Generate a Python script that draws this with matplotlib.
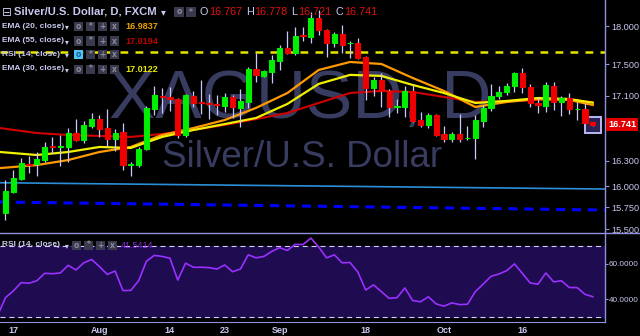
import matplotlib
matplotlib.use('Agg')
import matplotlib.pyplot as plt
import matplotlib.transforms as mtransforms
from matplotlib.patches import Rectangle
from matplotlib.lines import Line2D
from matplotlib.ticker import NullLocator, FixedLocator, FixedFormatter
import numpy as np

# ---------------- data ----------------
opens = [15.685, 15.930, 16.083, 16.267, 16.261, 16.309, 16.473, 16.461, 16.467, 16.637,
         16.552, 16.723, 16.809, 16.698, 16.564, 16.650, 16.255, 16.249, 16.443, 16.934,
         17.096, 17.078, 17.059, 16.613, 17.096, 17.015, 17.003, 16.997, 16.972, 17.084,
         16.947, 17.021, 17.440, 17.351, 17.402, 17.543, 17.713, 17.648, 17.876, 17.856,
         18.106, 17.948, 17.778, 17.896, 17.772, 17.778, 17.595, 17.198, 17.300, 17.160,
         16.953, 16.959, 17.160, 16.797, 16.735, 16.859, 16.625, 16.564, 16.625, 16.570,
         16.576, 16.784, 16.947, 17.096, 17.147, 17.224, 17.389, 17.211, 17.009, 16.972,
         17.224, 17.021, 17.071, 16.928, 16.934, 16.767]
highs = [16.071, 16.190, 16.333, 16.357, 16.406, 16.528, 16.589, 16.613, 16.698, 16.809,
         16.784, 16.884, 16.859, 16.934, 16.686, 16.759, 16.285, 16.467, 16.972, 17.224,
         17.198, 17.211, 17.071, 17.122, 17.160, 17.300, 17.122, 17.109, 17.134, 17.109,
         17.185, 17.466, 17.648, 17.427, 17.622, 17.752, 17.935, 17.987, 17.987, 18.185,
         18.211, 17.961, 17.922, 18.013, 17.804, 17.843, 17.608, 17.338, 17.389, 17.185,
         17.059, 17.224, 17.236, 16.897, 16.884, 16.872, 16.723, 16.650, 16.872, 16.723,
         16.859, 16.984, 17.249, 17.224, 17.262, 17.402, 17.453, 17.249, 17.084, 17.274,
         17.274, 17.096, 17.134, 17.021, 17.009, 16.778]
lows = [15.604, 15.918, 16.071, 16.154, 16.119, 16.285, 16.394, 16.237, 16.285, 16.540,
        16.516, 16.698, 16.589, 16.467, 16.418, 16.190, 16.119, 16.226, 16.430, 16.859,
        16.884, 16.909, 16.576, 16.589, 16.959, 16.872, 16.809, 16.859, 16.897, 16.822,
        16.711, 16.947, 17.274, 17.338, 17.262, 17.427, 17.635, 17.622, 17.804, 17.778,
        17.883, 17.595, 17.726, 17.648, 17.582, 17.569, 17.046, 17.096, 16.959, 16.834,
        16.884, 16.834, 16.772, 16.711, 16.698, 16.601, 16.528, 16.528, 16.528, 16.552,
        16.321, 16.711, 16.909, 17.059, 17.109, 17.147, 17.134, 16.959, 16.884, 16.897,
        16.922, 16.847, 16.872, 16.797, 16.755, 16.721]
closes = [15.942, 16.095, 16.273, 16.255, 16.321, 16.467, 16.461, 16.473, 16.637, 16.552,
          16.735, 16.809, 16.686, 16.564, 16.637, 16.249, 16.267, 16.443, 16.947, 17.109,
          17.078, 17.059, 16.613, 17.109, 17.009, 17.003, 16.990, 16.984, 17.084, 16.953,
          17.034, 17.440, 17.364, 17.415, 17.556, 17.713, 17.648, 17.870, 17.863, 18.106,
          17.948, 17.778, 17.896, 17.752, 17.778, 17.582, 17.198, 17.300, 17.160, 16.959,
          16.965, 17.160, 16.784, 16.735, 16.859, 16.613, 16.564, 16.625, 16.564, 16.582,
          16.797, 16.947, 17.096, 17.147, 17.224, 17.389, 17.211, 17.009, 16.984, 17.236,
          17.021, 17.071, 16.934, 16.934, 16.765, 16.741]

# EMA lines read at sampled bar positions
ema_idx = [-0.7, 4, 8, 12, 16, 20, 24, 28, 32, 36, 40, 44, 48, 52, 56, 60, 64, 68, 72, 75]
ema20 = [16.213, 16.249, 16.309, 16.406, 16.467, 16.613, 16.698, 16.797, 16.947, 17.134,
         17.427, 17.530, 17.504, 17.325, 17.160, 16.959, 17.021, 17.059, 17.046, 16.9837]
ema30 = [16.406, 16.370, 16.406, 16.467, 16.455, 16.589, 16.674, 16.747, 16.822, 16.997,
         17.249, 17.364, 17.351, 17.236, 17.134, 17.009, 17.034, 17.071, 17.059, 17.0122]
ema55 = [16.698, 16.637, 16.613, 16.601, 16.589, 16.625, 16.674, 16.735, 16.809, 16.884,
         17.009, 17.134, 17.160, 17.147, 17.084, 17.021, 17.034, 17.046, 17.046, 17.0194]

# RSI(14), first value belongs to the bar before the first visible candle
rsi_start = -1
rsi = [31.0, 41.0, 44.8, 49.5, 49.1, 50.5, 54.7, 54.5, 54.9, 59.2, 56.6, 60.6, 62.5, 58.5,
       54.1, 56.0, 45.0, 45.1, 50.5, 61.5, 64.8, 64.2, 63.2, 50.9, 60.4, 58.1, 58.1, 57.9,
       57.1, 59.4, 55.6, 57.1, 65.1, 63.4, 64.2, 67.0, 69.1, 67.6, 71.0, 70.9, 74.5, 69.5,
       63.4, 65.1, 60.6, 60.8, 55.4, 45.3, 48.2, 44.4, 40.6, 41.0, 46.5, 39.4, 38.7, 41.5,
       37.5, 36.2, 38.1, 37.1, 37.3, 44.4, 48.6, 53.0, 54.3, 56.2, 60.0, 54.7, 49.3, 48.6,
       54.9, 49.9, 50.5, 46.7, 46.7, 42.9, 41.5414]

# drawn levels / trend lines
level_yellow = 17.665
trend_x = [-0.7, 76.6]
trend_light = [16.039, 15.965]
trend_dashed = [15.813, 15.720]

price_ticks = [18.0, 17.5, 17.1, 16.3, 16.0, 15.75, 15.5]
price_labels = ['18.000', '17.500', '17.100', '16.300', '16.000', '15.750', '15.500']
rsi_ticks = [60, 40]
rsi_labels = ['60.0000', '40.0000']
date_pos = [1, 12, 21, 28, 35, 46, 56, 66]
date_labels = ['17', 'Aug', '14', '23', 'Sep', '18', 'Oct', '16']

# ---------------- styling ----------------
W, H = 640, 336
LAV = '#c8c8f0'
AXC = '#8f8fe0'
GREEN = '#00ee00'
RED = '#ee0000'
WICK = '#c8c8ff'
FONT = ['Liberation Sans', 'DejaVu Sans']


def fx(px):
    return px / W


def fy(py):
    return 1 - py / H


fig = plt.figure(figsize=(6.4, 3.36), dpi=100, facecolor='black')
ax = fig.add_axes([0, fy(232), fx(605), 232 / H])
axr = fig.add_axes([0, fy(321.5), fx(605), (321.5 - 233.5) / H])

for a in (ax, axr):
    a.set_facecolor('black')
    a.set_xlim(-0.70, 76.56)
    for s in ('left', 'top', 'bottom', 'right'):
        a.spines[s].set_visible(False)
    a.spines['right'].set_visible(True)
    a.spines['right'].set_color(AXC)
    a.spines['right'].set_linewidth(1.0)

# ----- main price panel -----
ax.set_yscale('log')
ax.set_ylim(15.468, 18.348)
ax.yaxis.tick_right()
ax.yaxis.set_major_locator(FixedLocator(price_ticks))
ax.yaxis.set_major_formatter(FixedFormatter(price_labels))
ax.yaxis.set_minor_locator(NullLocator())
ax.tick_params(axis='y', colors=AXC, labelcolor=LAV, labelsize=6.6, length=3, width=0.8, pad=1.5)
for t in ax.get_yticklabels():
    t.set_family(FONT)
ax.tick_params(axis='x', bottom=False, labelbottom=False)

# watermark
ax.text(0.4965, 1 - 118 / 232, 'XAGUSD, D', transform=ax.transAxes, ha='center', va='baseline',
        fontsize=50, color='#383c60', family=FONT, zorder=0)
ax.text(0.4990, 1 - 167 / 232, 'Silver/U.S. Dollar', transform=ax.transAxes, ha='center',
        va='baseline', fontsize=26.5, color='#383c60', family=FONT, zorder=0)

# levels
ax.plot(trend_x, [level_yellow, level_yellow], color='#e6e600', lw=1.8, dashes=(3.1, 2.9), zorder=1.5)
ax.plot(trend_x, trend_light, color='#2a8fd8', lw=1.2, zorder=1.5)
ax.plot(trend_x, trend_dashed, color='#0000ff', lw=2.2, dashes=(3.0, 2.2), zorder=1.5)

# EMAs
ax.plot(ema_idx, ema55, color='#d00000', lw=1.5, zorder=2)
ax.plot(ema_idx, ema20, color='#ff9a00', lw=1.6, zorder=2.1)
ax.plot(ema_idx, ema30, color='#f0f000', lw=1.6, zorder=2.2)

# last bar highlight
n = len(closes)
ax.plot([n - 1], [closes[-1]], marker='s', ms=11, mfc='#2a2250', mec='#b8b8f8', mew=1.4,
        zorder=2.5, ls='none')

# candles
x = np.arange(n)
o = np.array(opens)
c = np.array(closes)
up = c >= o
cols = np.where(up, GREEN, RED)
ax.vlines(x, lows, highs, color=WICK, lw=0.9, zorder=2.8)
ax.bar(x, np.abs(c - o), bottom=np.minimum(o, c), width=0.66, color=cols, edgecolor=cols,
       linewidth=0.8, zorder=3)

# current price tag
trans = mtransforms.blended_transform_factory(ax.transAxes, ax.transData)
ax.text(1.005, closes[-1], f'{closes[-1]:.3f}', transform=trans, ha='left', va='center',
        fontsize=6.6, color='white', fontweight='bold', family=FONT, clip_on=False, zorder=10,
        bbox=dict(boxstyle='square,pad=0.25', fc='#e00000', ec='none'))

# ----- RSI panel -----
axr.spines['bottom'].set_visible(True)
axr.spines['bottom'].set_color(AXC)
axr.set_ylim(27.6, 77.1)
axr.axhspan(30, 70, color='#1e0b50', zorder=0)
axr.axhline(70, color='#d0d0f0', lw=0.8, dashes=(4.5, 3.5), zorder=1)
axr.axhline(30, color='#d0d0f0', lw=0.8, dashes=(4.5, 3.5), zorder=1)
axr.plot(np.arange(rsi_start, rsi_start + len(rsi)), rsi, color='#9a30ff', lw=1.2, zorder=2)
axr.yaxis.tick_right()
axr.set_yticks(rsi_ticks)
axr.set_yticklabels(rsi_labels)
axr.tick_params(axis='y', colors=AXC, labelcolor=LAV, labelsize=5.9, length=2, width=0.8, pad=0.8)
axr.set_xticks(date_pos)
axr.set_xticklabels(date_labels)
axr.tick_params(axis='x', colors=AXC, labelcolor=LAV, labelsize=6.5, length=0, pad=3.5)
for t in axr.get_yticklabels():
    t.set_family(FONT)
for t in axr.get_xticklabels():
    t.set_family(FONT)
    t.set_fontweight('bold')

# separator line between panels
fig.add_artist(Line2D([0, 1], [fy(233), fy(233)], transform=fig.transFigure, color=AXC, lw=1.0))


# ----- header / legend texts -----
def icon(px, py, color='#3a3a4e', sym='', symcol='#8a8a9a', w=9, h=9):
    fig.add_artist(Rectangle((fx(px), fy(py + h / 2)), w / W, h / H, transform=fig.transFigure,
                             facecolor=color, edgecolor='none', zorder=20))
    if sym:
        fig.text(fx(px + w / 2), fy(py), sym, ha='center', va='center', fontsize=5.5,
                 color=symcol, family=['DejaVu Sans'], zorder=21, fontweight='bold')


def ftext(px, py, s, color=LAV, size=7, weight='normal', family=FONT, ha='left'):
    fig.text(fx(px), fy(py), s, ha=ha, va='center', fontsize=size, color=color,
             fontweight=weight, family=family, zorder=22)


ftext(2, 12, '\u229f', size=8.5, family=['DejaVu Sans'])
ftext(14, 12, 'Silver/U.S. Dollar, D, FXCM', size=8.1, weight='bold')
ftext(161, 12.5, '\u25be', size=7, family=['DejaVu Sans'])
icon(174, 12, w=10, h=10, sym='o')
icon(186, 12, w=10, h=10, sym='*')
ftext(200, 12, 'O', size=7.8)
ftext(209, 12, '16.767', color='#e01010', size=7.8)
ftext(246, 12, 'H', size=7.8)
ftext(254, 12, '16.778', color='#e01010', size=7.8)
ftext(291, 12, 'L', size=7.8)
ftext(298, 12, '16.721', color='#e01010', size=7.8)
ftext(336, 12, 'C', size=7.8)
ftext(344, 12, '16.741', color='#e01010', size=7.8)

legend_rows = [
    (26.5, 'EMA (20, close)', '16.9837', '#e8a000', False),
    (41, 'EMA (55, close)', '17.0194', '#c00000', False),
    (54.5, 'RSI (14, close)', None, None, True),
    (69, 'EMA (30, close)', '17.0122', '#e8e800', False),
]
for py, name, val, vcol, hl in legend_rows:
    ftext(2, py, name, size=6.0, weight='bold')
    ftext(64.5, py + 0.5, '\u25be', size=5.5, family=['DejaVu Sans'])
    icon(74, py, color='#4fc3f7' if hl else '#3a3a4e', sym='o', symcol='#1a5a9a' if hl else '#8a8a9a')
    icon(86, py, sym='*')
    icon(98, py, sym='+')
    icon(110, py, sym='x')
    if val:
        ftext(125, py, val, color=vcol, size=6.5, weight='bold')

# RSI panel header
ftext(2, 245, 'RSI (14, close)', size=6.0, weight='bold')
ftext(64.5, 245.5, '\u25be', size=5.5, family=['DejaVu Sans'])
icon(72, 245, sym='o')
icon(84, 245, sym='*')
icon(96, 245, sym='+')
icon(108, 245, sym='x')
ftext(121, 245, f'{rsi[-1]:.4f}', color='#8a2be2', size=6.5)

fig.savefig('out.png', dpi=100, facecolor='black')
